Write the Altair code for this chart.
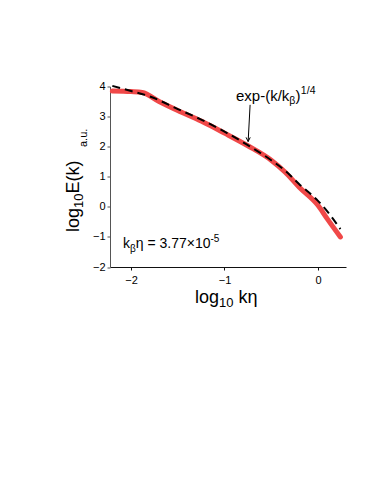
import altair as alt
import pandas as pd

# ---- data ----
red_x = [-2.2, -2.0, -1.88, -1.7, -1.5, -1.25, -1.0, -0.75, -0.5, -0.35, -0.2, 0.0, 0.1, 0.24]
red_y = [3.85, 3.83, 3.80, 3.50, 3.20, 2.85, 2.45, 2.03, 1.55, 1.15, 0.65, 0.05, -0.40, -1.00]

fit_x = [-2.2, -2.0, -1.8, -1.5, -1.25, -1.0, -0.75, -0.5, -0.35, -0.2, 0.0, 0.1, 0.24]
fit_y = [4.02, 3.85, 3.67, 3.25, 2.90, 2.50, 2.05, 1.55, 1.20, 0.75, 0.20, -0.15, -0.74]

x_ticks = [-2, -1, 0]
y_ticks = [-2, -1, 0, 1, 2, 3, 4]
x_domain = [-2.225, 0.3]
y_domain = [-2, 4]

arrow_x = [-0.726, -0.747]
arrow_y = [3.39, 2.17]

FONT = "Liberation Sans"
W, H = 236, 180.5

# Arial-like advance widths (em/1000)
WID = {" ": 278, "(": 333, ")": 333, "-": 333, ".": 278, "/": 278, "=": 584, "×": 584,
       "E": 667, "a": 556, "e": 556, "g": 556, "k": 500, "l": 222, "o": 556, "p": 556,
       "u": 556, "x": 500, "β": 575, "η": 556}


def tw(s, size):
    return sum(WID.get(c, 556) for c in s) / 1000 * size


red = pd.DataFrame({"x": red_x, "y": red_y})
fit = pd.DataFrame({"x": fit_x, "y": fit_y})
one = pd.DataFrame({"d": [0]})

xs = alt.Scale(domain=x_domain, nice=False, zero=False)
ys = alt.Scale(domain=y_domain, nice=False, zero=False)

xaxis = alt.Axis(values=x_ticks, title=None, grid=False, tickSize=3, labelPadding=4,
                 labelFont=FONT, labelFontSize=11, labelColor="black", labelOverlap=False,
                 domainColor="#111", tickColor="#111", format="d", labelFlush=False)
yaxis = alt.Axis(values=y_ticks, title=None, grid=False, tickSize=3, labelPadding=2,
                 labelFont=FONT, labelFontSize=11, labelColor="black", labelOverlap=False,
                 domainColor="#555", tickColor="#555", format="d", labelFlush=False)

X = alt.X("x:Q", scale=xs, axis=xaxis)
Y = alt.Y("y:Q", scale=ys, axis=yaxis)

red_line = alt.Chart(red).mark_line(color="#f04848", strokeWidth=5, strokeCap="round",
                                    interpolate="monotone").encode(x=X, y=Y)
fit_line = alt.Chart(fit).mark_line(color="black", strokeWidth=2, strokeDash=[8, 5],
                                    interpolate="monotone").encode(x=X, y=Y)

arrow = pd.DataFrame({"x": arrow_x, "y": arrow_y})
arrow_line = alt.Chart(arrow).mark_line(color="black", strokeWidth=1).encode(x=X, y=Y)
arrow_head = alt.Chart(arrow.iloc[[1]]).mark_point(
    shape="M -0.5 -1 L 0 0 L 0.5 -1", filled=False, color="black", strokeWidth=1,
    size=70, opacity=1
).encode(x=X, y=Y)

pieces = []


def run(parts, x0, y0, rotated=False):
    """parts: list of (text, size, shift, gap) - shift moves baseline down (sub) / up (sup)."""
    pos = 0.0
    for t, s, sh, gap in parts:
        pos += gap
        if rotated:
            pieces.append(dict(text=t, size=s, x=x0 + sh, y=y0 - pos, angle=270))
        else:
            pieces.append(dict(text=t, size=s, x=x0 + pos, y=y0 + sh, angle=0))
        pos += tw(t, s)


# annotation of the fit
run([("exp-(k/k", 15, 0, 0), ("β", 10.5, 3.5, 0), (")", 15, 0, 0), ("1/4", 10.5, -6.5, 0.5)], 126, 14)
# k_beta eta
run([("k", 14, 0, 0), ("β", 10, 3.5, 0), ("η = 3.77×10", 14, 0, 0), ("-5", 10, -6, 0)], 13, 161.5)
# x title
run([("log", 18, 0, 0), ("10", 13, 4, 0), ("kη", 18, 0, 5)], 85, 216.5)
# y title
run([("log", 18, 0, 0), ("10", 13, 4, 0), ("E(k)", 18, 0, 0)], -31, 145.5, rotated=True)
run([("a.u.", 11, 0, 0)], -23, 60.5, rotated=True)

text_layers = [
    alt.Chart(one).mark_text(text=p["text"], fontSize=p["size"], font=FONT, angle=p["angle"],
                             align="left", baseline="alphabetic", color="black").encode(
        x=alt.value(p["x"]), y=alt.value(p["y"]))
    for p in pieces
]

chart = alt.layer(red_line, fit_line, arrow_line, arrow_head, *text_layers).properties(
    width=W, height=H,
    autosize=alt.AutoSizeParams(type="none"),
    padding={"left": 102, "top": 78.5, "right": 20, "bottom": 205},
).configure_view(stroke=None)

chart.save("out.html", embed_options={"renderer": "svg", "actions": False})
